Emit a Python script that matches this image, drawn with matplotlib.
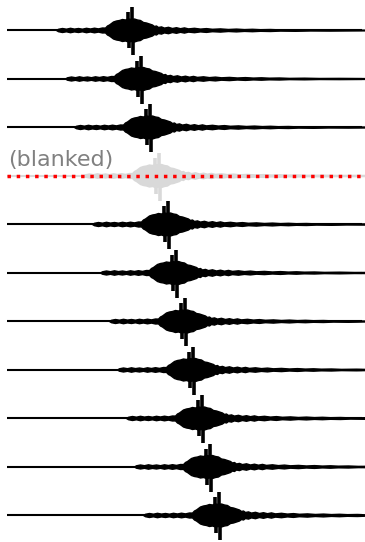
import numpy as np
import matplotlib.pyplot as plt

# record length shown for every trace (s)
line_len = 355
# arrival time of the main phase on each trace (s)
peaks = [123, 132, 141, 150, 159, 167, 176, 184, 193, 201, 210]
# traces removed from the gather
blanked = [3]

# amplitude envelope of the wavetrain, relative to the main arrival
env_rel = [-74, -72, -68, -64, -60, -56, -52, -48, -44, -40, -36, -32, -28, -25,
           -23, -21, -19, -17, -14, -11, -8, -5, -2, 1, 4, 7, 10, 13, 16,
           19, 22, 24, 26, 28, 31, 34, 38, 42, 46, 50, 54,
           58, 64, 70, 76, 82, 90, 98, 106, 114, 122, 130, 140, 150, 165, 180,
           200, 230, 260]
env_amp = [0.0, 1.2, 2.0, 1.3, 2.2, 1.4, 2.0, 1.3, 2.2, 1.5, 2.3, 1.6, 2.5, 2.4,
           4.5, 5.5, 7.0, 8.5, 9.5, 10.0, 11.0, 10.5, 11.5, 11.0, 11.5, 10.5,
           10.0, 8.0, 7.5, 6.5, 5.5, 4.0, 4.5, 3.0, 3.6, 2.4, 3.2, 2.0, 2.8,
           1.8, 2.6, 1.6, 2.2, 1.4, 1.9, 1.2, 1.6, 1.0, 1.4, 0.9, 1.2, 0.8, 1.0,
           0.6, 0.8, 0.5, 0.6, 0.4, 0.3]

# largest swings of the main phase
spike_rel = [-2.5, 1.5, -1, 2.5]
spike_amp = [18, 23, -18, -25]

unit = 48.5  # amplitude that equals one trace spacing

fig = plt.figure(figsize=(3.65, 5.42), dpi=100)
ax = fig.add_axes([0, 0, 1, 1])

for i, tp in enumerate(peaks):
    dead = i in blanked
    col = '#d9d9d9' if dead else 'black'
    t = np.array(env_rel) + tp
    a = np.array(env_amp) / unit
    ax.plot([0, line_len], [i, i], color=col, lw=1.5, solid_capstyle='butt')
    ax.fill_between(t, i - a, i + a, color=col, lw=1.0)
    ax.vlines(np.array(spike_rel) + tp, i, i - np.array(spike_amp) / unit,
              color=col, lw=2.6)
    if dead:
        ax.plot([0, line_len], [i, i], color='red', ls=':', lw=2.5)
        ax.text(1, i - 0.2, '(blanked)', color='gray', fontsize=16,
                va='baseline')

ax.set_xlim(-7, 358)
ax.set_ylim((542 - 30) / unit, -30 / unit)
ax.axis('off')

fig.savefig('out.png', dpi=100)
